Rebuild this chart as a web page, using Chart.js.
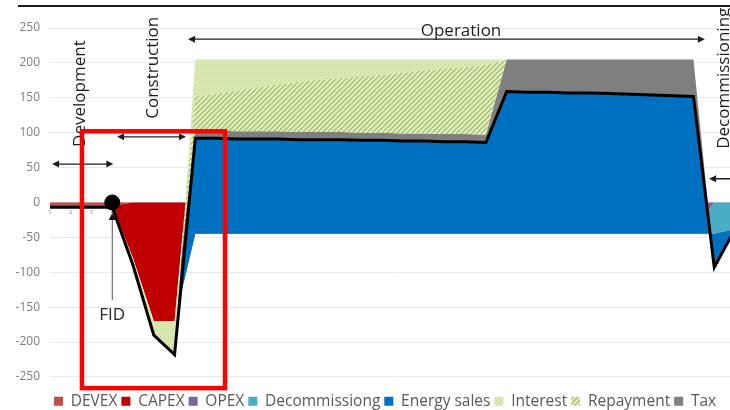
<!DOCTYPE html>
<html>
<head>
<meta charset="utf-8">
<title>Project cash flow by phase</title>
<script src="https://cdn.jsdelivr.net/npm/chart.js@4.4.1/dist/chart.umd.min.js"></script>
<style>
  html, body { margin: 0; padding: 0; background: #fff; overflow: hidden; }
  #wrap { position: relative; width: 770px; height: 419px; }
  #rule { position: absolute; left: 18px; top: 5px; width: 752px; border-top: 2px solid #1a1a1a; }
</style>
</head>
<body>
<div id="wrap">
  <canvas id="cashflow" width="770" height="419"></canvas>
  <div id="rule"></div>
</div>
<script>
// ---------------------------------------------------------
// 1. DATI (anni di progetto 1..34)
// ---------------------------------------------------------
const years = ['1', '2', '3', '4', '5', '6', '7', '8', '9', '10',
               '11', '12', '13', '14', '15', '16', '17', '18', '19', '20',
               '21', '22', '23', '24', '25', '26', '27', '28', '29', '30',
               '31', '32', '33', '34'];

const devex      = [-5, -5, -5, -5, 0, 0, 0, 0, 0, 0,
                    0, 0, 0, 0, 0, 0, 0, 0, 0, 0,
                    0, 0, 0, 0, 0, 0, 0, 0, 0, 0,
                    0, 0, 0, 0];
const capex      = [0, 0, 0, 0, -80, -170, -170, 0, 0, 0,
                    0, 0, 0, 0, 0, 0, 0, 0, 0, 0,
                    0, 0, 0, 0, 0, 0, 0, 0, 0, 0,
                    0, 0, 0, 0];
const opex       = [0, 0, 0, 0, 0, 0, 0, -45, -45, -45,
                    -45, -45, -45, -45, -45, -45, -45, -45, -45, -45,
                    -45, -45, -45, -45, -45, -45, -45, -45, -45, -45,
                    -45, -45, 0, 0];
const decom      = [0, 0, 0, 0, 0, 0, 0, 0, 0, 0,
                    0, 0, 0, 0, 0, 0, 0, 0, 0, 0,
                    0, 0, 0, 0, 0, 0, 0, 0, 0, 0,
                    0, 0, -45, -38];
const energy     = [0, 0, 0, 0, 0, 0, 0, 137, 137, 136,
                    136, 136, 135, 135, 135, 134, 134, 133, 133, 132,
                    132, 131, 204, 203, 203, 202, 202, 201, 200, 199,
                    198, 197, -48, 0];
const tax        = [0, 0, 0, 0, 0, 0, 0, 11, 11, 11,
                    11, 11, 11, 11, 11, 11, 11, 11, 11, 11,
                    11, 11, 46, 47, 47, 48, 48, 49, 50, 51,
                    52, 53, 0, 0];
const repayment  = [0, 0, 0, 0, 0, 0, 0, 48, 53, 58,
                    63, 67, 72, 75, 77, 81, 83, 87, 90, 94,
                    96, 100, 0, 0, 0, 0, 0, 0, 0, 0,
                    0, 0, 0, 0];
const interest   = [0, 0, 0, 0, -10, -20, -48, 54, 49, 45,
                    40, 36, 32, 29, 27, 24, 22, 19, 16, 13,
                    11, 8, 0, 0, 0, 0, 0, 0, 0, 0,
                    0, 0, 0, 0];
const netCashFlow = [-7, -7, -7, -7, -90, -190, -218, 92, 92, 91,
                     91, 91, 90, 90, 90, 89, 89, 88, 88, 87,
                     87, 86, 159, 158, 158, 157, 157, 156, 155, 154,
                     153, 152, -93, -38];
const fidMarker  = [null, null, null, 0, null, null, null, null, null, null,
                    null, null, null, null, null, null, null, null, null, null,
                    null, null, null, null, null, null, null, null, null, null,
                    null, null, null, null];

// asse Y: etichette da -250 a 250 ogni 50 (il fondo scende un po' sotto -250)
const yAxis = { min: -268, max: 250, step: 50 };
const legendOrder = ['DEVEX', 'CAPEX', 'OPEX', 'Decommissiong', 'Energy sales', 'Interest', 'Repayment', 'Tax'];

// annotazioni: at = indice categoria (0 = anno 1), value = valore asse Y
const phaseLabels = [
  { text: 'Development',     at: 1.45,  value: 156, vertical: true },
  { text: 'Construction',    at: 4.96,  value: 193, vertical: true },
  { text: 'Operation',       at: 19.8,  value: 246, vertical: false },
  { text: 'Decommissioning', at: 32.5,  value: 178, vertical: true }
];
const phaseArrows = [
  { from: 0.1,   to: 3.05,  value: 55 },
  { from: 3.23,  to: 6.55,  value: 94 },
  { from: 6.65,  to: 31.55, value: 234 },
  { from: 31.75, to: 34.5,  value: 34 }
];
const fidNote = { text: 'FID', at: 3, textValue: -161, arrowFrom: -140, arrowTo: -15 };
const focusBox = { from: 1.54, to: 8.43, top: 102, bottom: -266 };

// ---------------------------------------------------------
// 2. RIEMPIMENTI (tratteggi Interest / Repayment)
// ---------------------------------------------------------
function makePattern(size, draw) {
    const c = document.createElement('canvas');
    c.width = c.height = size;
    const g = c.getContext('2d');
    draw(g, size);
    return g.createPattern(c, 'repeat');
}

const interestFill = makePattern(4, (g, s) => {
    g.fillStyle = '#dbe8be';
    g.fillRect(0, 0, s, s);
    g.fillStyle = '#bfd38f';
    g.fillRect(0, 0, 1, 1);
    g.fillRect(2, 2, 1, 1);
});

const repaymentFill = makePattern(5, (g, s) => {
    g.fillStyle = '#e9f1d8';
    g.fillRect(0, 0, s, s);
    g.strokeStyle = '#abc86c';
    g.lineWidth = 1.8;
    g.beginPath();
    g.moveTo(-1, s + 1); g.lineTo(s + 1, -1);
    g.moveTo(-1, 1); g.lineTo(1, -1);
    g.moveTo(s - 1, s + 1); g.lineTo(s + 1, s - 1);
    g.stroke();
});

// ordine di impilamento (dal basso verso l'alto), come nell'area in pila di Excel
const stackOrder = [
    { label: 'DEVEX',         values: devex,     fill: '#c0504d' },
    { label: 'CAPEX',         values: capex,     fill: '#c00000' },
    { label: 'OPEX',          values: opex,      fill: '#8064a2' },
    { label: 'Decommissiong', values: decom,     fill: '#4bacc6' },
    { label: 'Energy sales',  values: energy,    fill: '#0070c0' },
    { label: 'Tax',           values: tax,       fill: '#7f7f7f' },
    { label: 'Repayment',     values: repayment, fill: repaymentFill },
    { label: 'Interest',      values: interest,  fill: interestFill }
];

// somme cumulate: ogni serie riempie fino alla precedente, l'ultima disegnata sopra
let running = years.map(() => 0);
const areaDatasets = stackOrder.map((s, i) => {
    running = running.map((sum, k) => sum + s.values[k]);
    return {
        label: s.label,
        data: running,
        backgroundColor: s.fill,
        borderColor: 'transparent',
        borderWidth: 0,
        pointRadius: 0,
        tension: 0,
        fill: i === 0 ? 'origin' : '-1',
        order: stackOrder.length - i
    };
});

// ---------------------------------------------------------
// 3. ANNOTAZIONI (fasi, FID, riquadro rosso)
// ---------------------------------------------------------
function arrowHead(ctx, x, y, dx, dy) {
    const len = 7, half = 3.5;
    ctx.beginPath();
    ctx.moveTo(x, y);
    ctx.lineTo(x - dx * len - dy * half, y - dy * len + dx * half);
    ctx.lineTo(x - dx * len + dy * half, y - dy * len - dx * half);
    ctx.closePath();
    ctx.fill();
}

const phaseNotes = {
    id: 'phaseNotes',
    afterDraw(chart) {
        const { ctx } = chart;
        const x = chart.scales.x, y = chart.scales.y;
        ctx.save();
        ctx.fillStyle = '#1e1e1e';
        ctx.strokeStyle = '#1e1e1e';
        ctx.font = '17px "Open Sans"';
        ctx.textAlign = 'center';
        ctx.textBaseline = 'middle';

        phaseLabels.forEach(p => {
            ctx.save();
            ctx.translate(x.getPixelForValue(p.at), y.getPixelForValue(p.value));
            if (p.vertical) ctx.rotate(-Math.PI / 2);
            ctx.fillText(p.text, 0, 0);
            ctx.restore();
        });

        ctx.lineWidth = 1.4;
        phaseArrows.forEach(a => {
            const x0 = x.getPixelForValue(a.from);
            const x1 = x.getPixelForValue(a.to);
            const yy = y.getPixelForValue(a.value);
            ctx.beginPath();
            ctx.moveTo(x0 + 4, yy);
            ctx.lineTo(x1 - 4, yy);
            ctx.stroke();
            arrowHead(ctx, x0, yy, -1, 0);
            arrowHead(ctx, x1, yy, 1, 0);
        });

        // FID
        const fx = x.getPixelForValue(fidNote.at);
        ctx.fillStyle = '#2a2a2a';
        ctx.fillText(fidNote.text, fx, y.getPixelForValue(fidNote.textValue));
        ctx.strokeStyle = '#555';
        ctx.lineWidth = 1;
        const fy0 = y.getPixelForValue(fidNote.arrowFrom);
        const fy1 = y.getPixelForValue(fidNote.arrowTo);
        ctx.beginPath();
        ctx.moveTo(fx, fy0);
        ctx.lineTo(fx, fy1 + 5);
        ctx.stroke();
        ctx.fillStyle = '#111';
        arrowHead(ctx, fx, fy1, 0, -1);

        // riquadro rosso di evidenza
        const bx0 = x.getPixelForValue(focusBox.from);
        const bx1 = x.getPixelForValue(focusBox.to);
        const by0 = y.getPixelForValue(focusBox.top);
        const by1 = y.getPixelForValue(focusBox.bottom);
        ctx.strokeStyle = '#ff0000';
        ctx.lineWidth = 4.5;
        ctx.strokeRect(bx0, by0, bx1 - bx0, by1 - by0);
        ctx.restore();
    }
};

// ---------------------------------------------------------
// 4. GRAFICO
// ---------------------------------------------------------
new Chart(document.getElementById('cashflow'), {
    type: 'line',
    data: {
        labels: years,
        datasets: [
            ...areaDatasets,
            {
                label: 'Net cash flow',
                data: netCashFlow,
                borderColor: '#000',
                borderWidth: 3,
                pointRadius: 0,
                fill: false,
                tension: 0,
                order: -1
            },
            {
                label: 'FID',
                data: fidMarker,
                showLine: false,
                pointRadius: 7.5,
                pointBackgroundColor: '#000',
                pointBorderColor: '#000',
                fill: false,
                order: -2
            }
        ]
    },
    options: {
        responsive: false,
        animation: false,
        events: [],
        layout: { padding: { left: 0, right: 35, top: 28, bottom: 0 } },
        plugins: {
            tooltip: { enabled: false },
            legend: {
                position: 'bottom',
                align: 'start',
                fullSize: false,
                labels: {
                    boxWidth: 9,
                    boxHeight: 9,
                    padding: 4,
                    color: '#595959',
                    font: { family: 'Open Sans', size: 15.5 },
                    filter: item => item.datasetIndex < stackOrder.length,
                    sort: (a, b) => legendOrder.indexOf(a.text) - legendOrder.indexOf(b.text)
                }
            }
        },
        scales: {
            x: {
                position: { y: 0 },
                z: 1,
                offset: false,
                grid: { display: true, drawOnChartArea: false, drawTicks: true, tickLength: 3, color: '#d6d6d6' },
                border: { display: true, color: '#d6d6d6', width: 1 },
                ticks: {
                    autoSkip: false,
                    maxRotation: 0,
                    padding: 3,
                    color: '#8c8c8c',
                    font: { family: 'Open Sans', size: 6 }
                }
            },
            y: {
                min: yAxis.min,
                max: yAxis.max,
                afterFit: scale => { scale.width = 50; },
                grid: { color: '#e9e9e9', drawTicks: false },
                border: { display: false },
                ticks: {
                    stepSize: yAxis.step,
                    includeBounds: false,
                    padding: 10,
                    color: '#808080',
                    font: { family: 'Open Sans', size: 12 }
                }
            }
        }
    },
    plugins: [phaseNotes]
});
</script>
</body>
</html>
